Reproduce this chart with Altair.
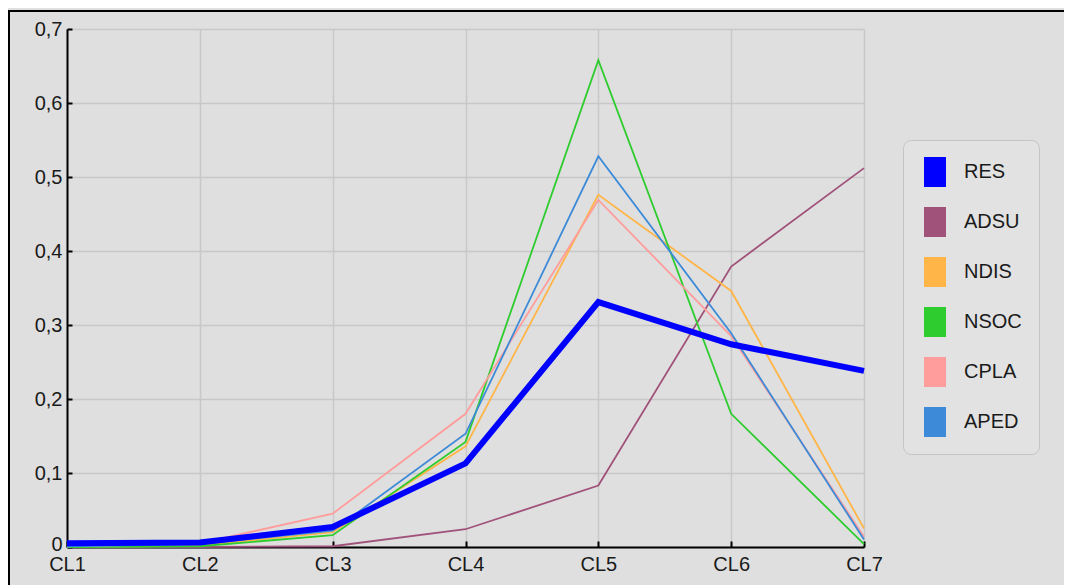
import altair as alt
import pandas as pd

categories = ["CL1", "CL2", "CL3", "CL4", "CL5", "CL6", "CL7"]
series_names = ["RES", "ADSU", "NDIS", "NSOC", "CPLA", "APED"]

RES = [0.005, 0.006, 0.027, 0.113, 0.331, 0.274, 0.238]
ADSU = [0.0, 0.0, 0.001, 0.024, 0.083, 0.379, 0.512]
NDIS = [0.0, 0.002, 0.020, 0.136, 0.476, 0.346, 0.025]
NSOC = [0.0, 0.001, 0.016, 0.142, 0.658, 0.180, 0.004]
CPLA = [0.001, 0.005, 0.045, 0.180, 0.469, 0.285, 0.014]
APED = [0.001, 0.004, 0.022, 0.153, 0.528, 0.289, 0.010]

series_colors = ["#0000FF", "#A0527A", "#FFB547", "#2ECC2E", "#FF9C9C", "#3C8AD8"]

y_ticks = [0.0, 0.1, 0.2, 0.3, 0.4, 0.5, 0.6, 0.7]

values = {"RES": RES, "ADSU": ADSU, "NDIS": NDIS, "NSOC": NSOC, "CPLA": CPLA, "APED": APED}
rows = [
    {"cl": c, "series": s, "value": v}
    for s in series_names
    for c, v in zip(categories, values[s])
]
df = pd.DataFrame(rows)

FONT = "Liberation Sans"
TXT = "#1a1a1a"

x_enc = alt.X(
    "cl:N",
    sort=categories,
    scale=alt.Scale(type="point", padding=0, domain=categories),
    axis=alt.Axis(
        title=None, grid=True, gridColor="#C8C8C8", gridWidth=1.5,
        domainColor="black", domainWidth=2,
        ticks=True, tickColor="black", tickWidth=2, tickSize={"expr": "-6"},
        labelFontSize=20, labelFont=FONT, labelColor=TXT,
        labelPadding=13, labelAngle=0,
    ),
)
y_enc = alt.Y(
    "value:Q",
    scale=alt.Scale(domain=[0, 0.7], nice=False, zero=True),
    axis=alt.Axis(
        title=None, grid=True, gridColor="#C8C8C8", gridWidth=1.5,
        domainColor="black", domainWidth=2,
        ticks=True, tickColor="black", tickWidth=2, tickSize={"expr": "-5"},
        values=y_ticks,
        labelExpr="datum.value == 0 ? '0' : replace(format(datum.value, '.1f'), '.', ',')",
        labelOffset=alt.condition("datum.value == 0", alt.value(-3), alt.value(0)),
        labelFontSize=20, labelFont=FONT, labelColor=TXT, labelPadding=10,
    ),
)
color_scale = alt.Scale(domain=series_names, range=series_colors)

base = alt.Chart(df)

thin = base.transform_filter(alt.datum.series != "RES").mark_line(strokeWidth=1.8).encode(
    x=x_enc, y=y_enc, color=alt.Color("series:N", scale=color_scale, legend=None)
)
thick = base.transform_filter(alt.datum.series == "RES").mark_line(strokeWidth=6).encode(
    x=x_enc, y=y_enc, color=alt.Color("series:N", scale=color_scale, legend=None)
)
legend_layer = base.mark_point(filled=True, size=0, opacity=1).encode(
    x=x_enc,
    y=y_enc,
    color=alt.Color(
        "series:N",
        scale=color_scale,
        legend=alt.Legend(
            title=None,
            orient="none",
            legendX=836,
            legendY=111,
            symbolType="M-0.733,-1L0.733,-1L0.733,1L-0.733,1Z",
            symbolSize=900,
            symbolStrokeWidth=0,
            symbolOpacity=1,
            labelFontSize=20,
            labelFont=FONT,
            labelColor=TXT,
            labelOffset=14,
            rowPadding=20,
            padding=17,
            strokeColor="#C4C4C4",
            fillColor="#E2E2E2",
            cornerRadius=8,
        ),
    ),
)

frame_data = pd.DataFrame({"k": [0]})
frame_left = alt.Chart(frame_data).mark_rule(color="black", strokeWidth=2, clip=False).encode(
    x=alt.value(-58), y=alt.value(-19), y2=alt.value(560)
)
frame_top = alt.Chart(frame_data).mark_rule(color="black", strokeWidth=2, clip=False).encode(
    y=alt.value(-18), x=alt.value(-59), x2=alt.value(1010)
)

chart = alt.layer(frame_left, frame_top, thin, thick, legend_layer).resolve_legend(
    color="independent"
).properties(
    width=797,
    height=518,
    padding={"left": 59, "top": 21, "right": 200, "bottom": 38},
    autosize=alt.AutoSizeParams(type="none"),
    background="#DFDFDF",
).configure_view(strokeWidth=0)

chart.save("out.html", embed_options={"renderer": "svg", "actions": False})
